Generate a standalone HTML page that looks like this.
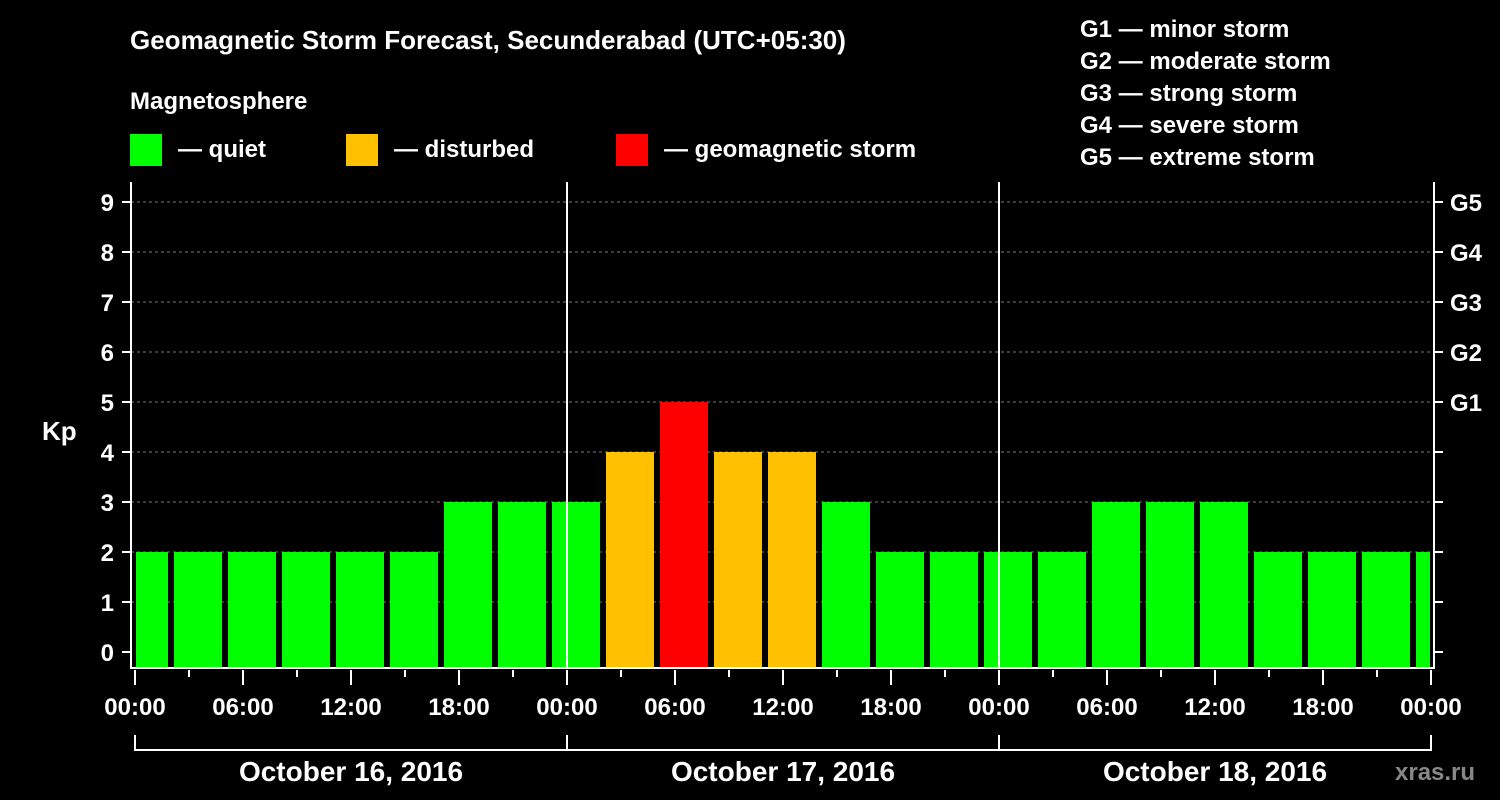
<!DOCTYPE html>
<html><head><meta charset="utf-8"><style>
body{margin:0;background:#000;width:1500px;height:800px;overflow:hidden}
svg{display:block;font-family:"Liberation Sans",Arial,sans-serif;font-weight:bold}
</style></head><body>
<svg id="c" width="1500" height="800">
<text x="130" y="49" fill="#fff" font-size="26">Geomagnetic Storm Forecast, Secunderabad (UTC+05:30)</text>
<text x="130" y="109" fill="#fff" font-size="24">Magnetosphere</text>
<rect x="130" y="134" width="32" height="32" fill="#00ff00"/>
<text x="178" y="157" fill="#fff" font-size="24">— quiet</text>
<rect x="346" y="134" width="32" height="32" fill="#ffc000"/>
<text x="394" y="157" fill="#fff" font-size="24">— disturbed</text>
<rect x="616" y="134" width="32" height="32" fill="#ff0000"/>
<text x="664" y="157" fill="#fff" font-size="24">— geomagnetic storm</text>
<g fill="#fff" font-size="24">
<text x="1080" y="37">G1 — minor storm</text>
<text x="1080" y="69">G2 — moderate storm</text>
<text x="1080" y="101">G3 — strong storm</text>
<text x="1080" y="133">G4 — severe storm</text>
<text x="1080" y="165">G5 — extreme storm</text>
</g>
<text x="42" y="440" fill="#fff" font-size="26">Kp</text>
<text x="1395" y="780" fill="#888" font-size="24">xras.ru</text>
<g id="plot"></g>
</svg>
<script>
const kpValues=[2,2,2,2,2,2,3,3,3,4,5,4,4,3,2,2,2,2,3,3,3,2,2,2,2];
const hourLabels=["00:00","06:00","12:00","18:00","00:00","06:00","12:00","18:00","00:00","06:00","12:00","18:00","00:00"];
const dayLabels=["October 16, 2016","October 17, 2016","October 18, 2016"];
const gLabels=["G1","G2","G3","G4","G5"];
const yTicks=[0,1,2,3,4,5,6,7,8,9];
const X0=135,PXH=18,Y0=652,PXU=50,BOT=668,TOP=182;
const xs=h=>X0+h*PXH, ys=v=>Y0-v*PXU;
const g=document.getElementById('plot'),NS='http://www.w3.org/2000/svg';
function mk(t,a,txt){const e=document.createElementNS(NS,t);for(const k in a)e.setAttribute(k,a[k]);if(txt!=null)e.textContent=txt;g.appendChild(e);return e;}
yTicks.forEach(v=>{if(v>0){const l=mk('line',{x1:131,x2:1434,y1:ys(v),y2:ys(v),stroke:'#777','stroke-dasharray':'3,3'});}
 const t=mk('line',{x1:122,x2:131,y1:ys(v),y2:ys(v),stroke:'#fff','stroke-width':2});
 const t2=mk('line',{x1:1434,x2:1443,y1:ys(v),y2:ys(v),stroke:'#fff','stroke-width':2});
 const lb=mk('text',{x:114,y:ys(v)+9,fill:'#fff','font-size':24,'text-anchor':'end'},v);
 if(v>=5){const gl=mk('text',{x:1450,y:ys(v)+9,fill:'#fff','font-size':24},gLabels[v-5]);}
});
kpValues.forEach((v,i)=>{const s=i==0?0:i*3-1,e=Math.min(i*3+2,72);
 const x1=xs(s)+(i==0?1:3),x2=xs(e)-(e==72?1:3);
 const col=v>=5?'#ff0000':v>=4?'#ffc000':'#00ff00';
 const r=mk('rect',{x:x1,y:ys(v),width:x2-x1,height:BOT-1-ys(v),fill:col});
 });
[24,48].forEach(h=>{const l=mk('line',{x1:xs(h),x2:xs(h),y1:TOP,y2:BOT,stroke:'#fff','stroke-width':2});});
let a=mk('line',{x1:131,x2:131,y1:TOP,y2:BOT+1,stroke:'#fff','stroke-width':2});
a=mk('line',{x1:1434,x2:1434,y1:TOP,y2:BOT+1,stroke:'#fff','stroke-width':2});
a=mk('line',{x1:130,x2:1435,y1:BOT,y2:BOT,stroke:'#fff','stroke-width':2});
for(let h=0;h<=72;h+=3){const maj=h%6==0;const t=mk('line',{x1:xs(h),x2:xs(h),y1:BOT+2,y2:BOT+(maj?17:9),stroke:'#fff','stroke-width':2});}
hourLabels.forEach((s,i)=>{const t=mk('text',{x:xs(i*6),y:715,fill:'#fff','font-size':24,'text-anchor':'middle'},s);});
dayLabels.forEach((s,i)=>{const x1=xs(i*24),x2=xs(i*24+24);
 const p=mk('path',{d:`M${x1} 735V750H${x2}V735`,stroke:'#fff','stroke-width':2,fill:'none'});
 const t=mk('text',{x:(x1+x2)/2,y:781,fill:'#fff','font-size':28,'text-anchor':'middle'},s);});
</script>
</body></html>
